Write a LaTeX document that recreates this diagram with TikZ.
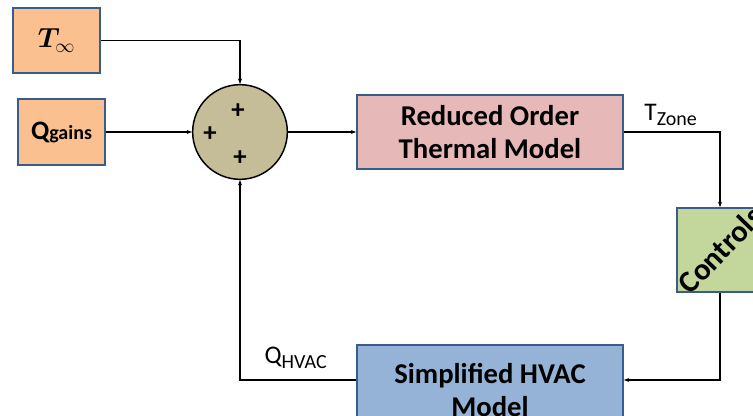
\documentclass[tikz,border=0pt]{standalone}
\usepackage{fontspec}
\usepackage{amsmath}
\usepackage{bm}
\setmainfont{Carlito}
\usetikzlibrary{arrows.meta, positioning, calc}

\definecolor{inorange}{HTML}{FAC090}
\definecolor{sumtan}{HTML}{C4BD97}
\definecolor{rompink}{HTML}{E6B9B8}
\definecolor{ctrlgreen}{HTML}{C3D69B}
\definecolor{hvacblue}{HTML}{95B3D7}
\definecolor{edgeblue}{HTML}{385D8A}

\begin{document}
\begin{tikzpicture}[
        x=0.75pt, y=-0.75pt,
        box/.style={draw=edgeblue, line width=1.4pt, inner sep=0pt, align=center, font=\fontsize{21.5}{25}\selectfont\bfseries},
        inbox/.style={box, fill=inorange, minimum width=65pt},
        sumnode/.style={circle, draw, line width=1.1pt, fill=sumtan, minimum size=71pt, inner sep=0pt},
        plus/.style={font=\fontsize{20}{24}\selectfont\bfseries, inner sep=0pt},
        sig/.style={font=\fontsize{19}{22}\selectfont, inner sep=0pt},
        arrow/.style={-{Stealth[length=4pt, width=3pt]}, line width=0.9pt}
    ]
        \useasboundingbox (0,0) rectangle (753,416);
        \clip (0,0) rectangle (753,416);

        % inputs
        \node[inbox, minimum height=49pt] (tinf) at (56.5,40.5) {\fontsize{22}{26}\selectfont$\bm{T}_{\infty}$};
        \node[inbox, minimum height=50pt, font=\fontsize{20}{24}\selectfont\bfseries] (qgains) at (61.5,132) {Q{\fontsize{15}{18}\selectfont gains}};

        % summing junction
        \node[sumnode] (sum) at (240,132) {};
        \node[plus] (p1) at (238,111) {+};
        \node[plus] (p2) at (210,134) {+};
        \node[plus] (p3) at (240,158) {+};

        % models
        \node[box, fill=rompink, minimum width=199.5pt, minimum height=55pt] (rom) at (490,132) {Reduced Order\\Thermal Model};
        \node[box, fill=ctrlgreen, minimum width=64.5pt, minimum height=63pt] (ctrl) at (720,250) {};
        \node[font=\fontsize{23}{27}\selectfont\bfseries, rotate=46] (ctrltext) at (ctrl.center) {Controls};
        \node[box, fill=hvacblue, minimum width=199.5pt, minimum height=67.5pt] (hvac) at (490,390) {Simplified HVAC\\Model};

        % signals
        \draw[arrow] (tinf.east) -| (sum.north);
        \draw[arrow] (qgains.east) -- (sum.west);
        \draw[arrow] (sum.east) -- (rom.west);
        \draw[arrow] (rom.east) -| (ctrl.north);
        \draw[arrow] (ctrl.south) |- ([yshift=7.5pt]hvac.east);
        \draw[arrow] ([yshift=7.5pt]hvac.west) -| (sum.south);

        % labels
        \node[sig] (tzone) at (671,115) {T\textsubscript{\fontsize{15}{18}\selectfont Zone}};
        \node[sig] (qhvac) at (296,358) {Q\textsubscript{\fontsize{15}{18}\selectfont HVAC}};

    \end{tikzpicture}
\end{document}
